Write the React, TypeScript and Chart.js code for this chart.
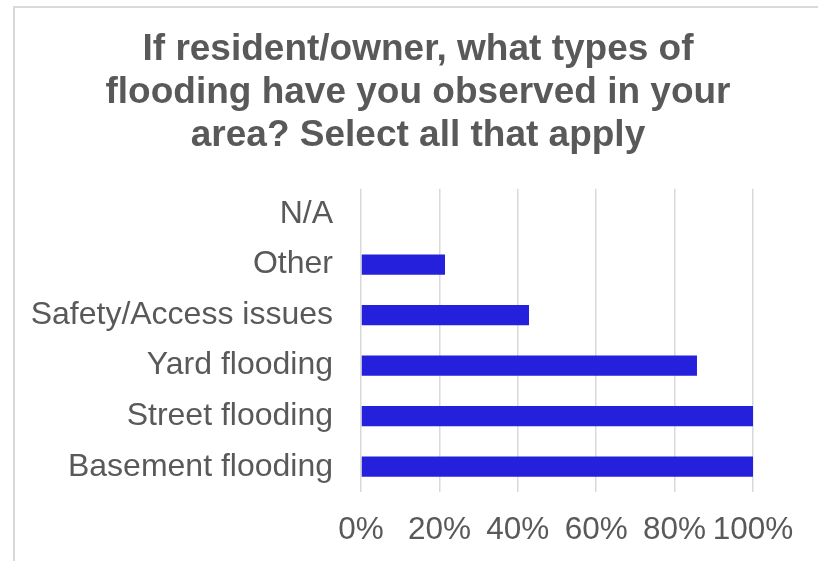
import React, { useEffect, useRef } from "react";
import { Chart, registerables } from "chart.js";

Chart.register(...registerables);

const categories = [
  "N/A",
  "Other",
  "Safety/Access issues",
  "Yard flooding",
  "Street flooding",
  "Basement flooding",
];
const values = [0, 21.43, 42.86, 85.71, 100, 100];
const xTicks = [0, 20, 40, 60, 80, 100];
const titleLines = [
  "If resident/owner, what types of",
  "flooding have you observed in your",
  "area? Select all that apply",
];

export default function App() {
  const ref = useRef<HTMLCanvasElement | null>(null);

  useEffect(() => {
    if (!ref.current) return;
    const chart = new Chart(ref.current, {
      type: "bar",
      data: {
        labels: categories,
        datasets: [
          {
            data: values,
            backgroundColor: "#2420DB",
            barPercentage: 0.4,
            categoryPercentage: 1,
          },
        ],
      },
      options: {
        indexAxis: "y",
        animation: false,
        responsive: false,
        maintainAspectRatio: false,
        layout: { padding: { left: 20, right: 2, top: 28, bottom: 0 } },
        plugins: {
          legend: { display: false },
          tooltip: { enabled: false },
          title: {
            display: true,
            text: titleLines,
            color: "#595959",
            font: { family: "'Liberation Sans', Arial, sans-serif", size: 37, weight: "bold", lineHeight: 1.16 },
            padding: { top: 0, bottom: 32 },
          },
        },
        scales: {
          x: {
            min: 0,
            max: 100,
            afterBuildTicks: (scale: any) => {
              scale.ticks = xTicks.map((v) => ({ value: v }));
            },
            afterFit: (scale: any) => {
              scale.height = 69;
              scale.paddingRight = 65;
            },
            grid: { color: "#d9d9d9", lineWidth: 1.5, drawTicks: false },
            border: { display: false },
            ticks: {
              color: "#595959",
              padding: 19,
              font: { family: "'Liberation Sans', Arial, sans-serif", size: 31.5 },
              callback: (v: any) => v + "%",
              maxRotation: 0,
              autoSkip: false,
            },
          },
          y: {
            afterFit: (scale: any) => {
              scale.width = 341;
            },
            grid: { display: false, drawTicks: false },
            border: { display: false },
            ticks: {
              color: "#595959",
              padding: 28,
              font: { family: "'Liberation Sans', Arial, sans-serif", size: 32 },
              autoSkip: false,
            },
          },
        },
      },
    });
    return () => chart.destroy();
  }, []);

  return (
    <div
      style={{
        position: "fixed",
        left: 0,
        top: 0,
        width: 818,
        height: 561,
        overflow: "hidden",
        background: "#ffffff",
      }}
    >
      <div
        style={{
          position: "absolute",
          left: 13,
          top: 6,
          width: 900,
          height: 700,
          border: "2px solid #d9d9d9",
          boxSizing: "border-box",
        }}
      />
      <canvas
        ref={ref}
        width={818}
        height={561}
        style={{ position: "absolute", left: 0, top: 0, width: 818, height: 561 }}
      />
    </div>
  );
}
